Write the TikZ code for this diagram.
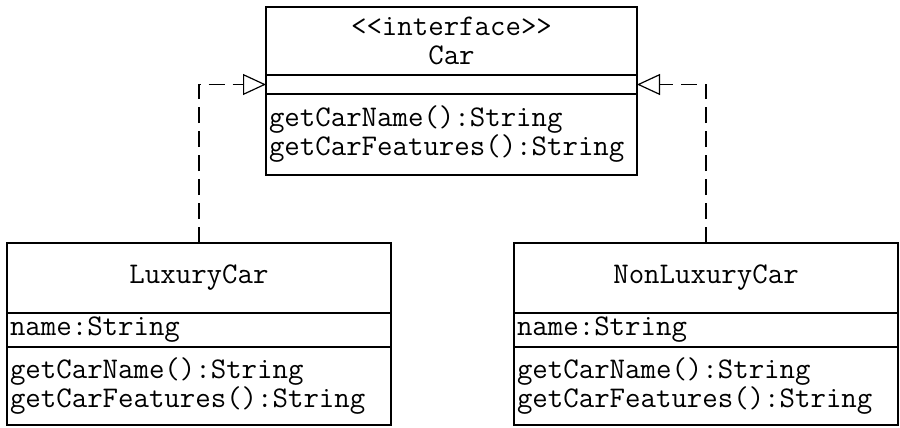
\documentclass[tikz,border=0pt]{standalone}
\usepackage{fontspec}
\usetikzlibrary{arrows.meta, positioning}

\tikzset{
  compart/.style={draw, line width=1.2pt, outer sep=0pt, inner xsep=3pt, inner ysep=0pt,
    font=\ttfamily\fontsize{30}{29}\selectfont},
  realize/.style={dash pattern=on 16pt off 8pt, line width=1.2pt,
    -{Triangle[open, length=23pt, width=21pt, fill=white]}},
}

\begin{document}
\begin{tikzpicture}[x=1pt, y=-1pt]
\useasboundingbox (0,0) rectangle (900,428);

%interface:
\node[compart, anchor=north west, minimum width=371pt, minimum height=68pt, align=center] (cartitle) at (266,7) {{<}{<}interface{>}{>}\\Car};
\node[compart, below=0pt of cartitle, minimum width=371pt, minimum height=19pt] (carattr) {};
\node[compart, below=0pt of carattr, text width=365pt, minimum height=81pt, align=left] (carops) {getCarName():String\\getCarFeatures():String};

%classes:
\node[compart, anchor=north west, minimum width=384pt, minimum height=70pt] (luxtitle) at (7,243) {LuxuryCar};
\node[compart, below=0pt of luxtitle, text width=378pt, minimum height=34pt, align=left] (luxattr) {name:String};
\node[compart, below=0pt of luxattr, text width=378pt, minimum height=78pt, align=left] (luxops) {getCarName():String\\getCarFeatures():String};

\node[compart, anchor=north west, minimum width=384pt, minimum height=70pt] (nonluxtitle) at (514,243) {NonLuxuryCar};
\node[compart, below=0pt of nonluxtitle, text width=378pt, minimum height=34pt, align=left] (nonluxattr) {name:String};
\node[compart, below=0pt of nonluxattr, text width=378pt, minimum height=78pt, align=left] (nonluxops) {getCarName():String\\getCarFeatures():String};

%realization:
\draw[realize] (luxtitle.north) |- (carattr.west);
\draw[realize] (nonluxtitle.north) |- (carattr.east);

\end{tikzpicture}
\end{document}
